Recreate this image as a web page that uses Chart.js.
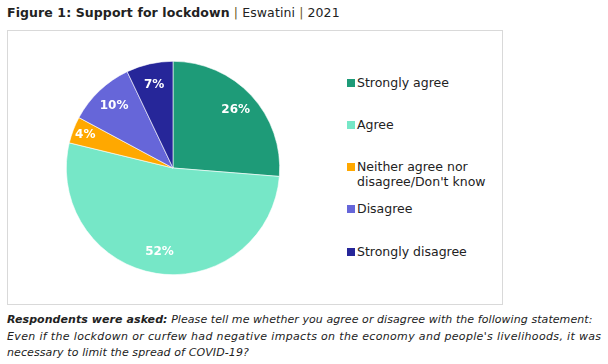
<!DOCTYPE html>
<html>
<head>
<meta charset="utf-8">
<script src="https://cdn.jsdelivr.net/npm/chart.js@4"></script>
<style>
  body { margin: 0; width: 608px; height: 364px; background: #fff; font-family: "DejaVu Sans", sans-serif; color: #222; position: relative; overflow: hidden; }
  #title { position: absolute; left: 7px; top: 5px; font-size: 12.5px; white-space: nowrap; letter-spacing: 0.1px; }
  #title b { font-weight: bold; }
  .pipe { color: #6b5a1e; }
  #box { position: absolute; left: 7px; top: 30px; width: 494px; height: 273px; border: 1px solid #d9d9d9; }
  #wrap { position: absolute; left: 60px; top: 55px; width: 226px; height: 226px; }
  #legend { position: absolute; left: 347px; top: 0; font-size: 12.5px; }
  .item { position: absolute; left: 0; white-space: nowrap; line-height: 15px; }
  .sw { position: absolute; left: 0; top: 4px; width: 8px; height: 8px; }
  .lt { position: absolute; left: 10px; top: 0; }
  #note { position: absolute; left: 7px; top: 312px; font-size: 11px; font-style: italic; line-height: 16.5px; white-space: nowrap; }
</style>
</head>
<body>
<div id="title"><b>Figure 1: Support for lockdown</b> <span class="pipe">|</span> Eswatini <span class="pipe">|</span> 2021</div>
<div id="box"></div>
<div id="wrap"><canvas id="pieChart"></canvas></div>
<div id="legend"></div>
<div id="note"><div style="letter-spacing:0.07px"><b>Respondents were asked:</b> Please tell me whether you agree or disagree with the following statement:</div><div style="letter-spacing:0.34px">Even if the lockdown or curfew had negative impacts on the economy and people's livelihoods, it was</div><div style="letter-spacing:0.1px">necessary to limit the spread of COVID-19?</div></div>
<script>
// données
const categories = ['Strongly agree', 'Agree', 'Neither agree nor disagree/Don\'t know', 'Disagree', 'Strongly disagree'];
const legendLines = [['Strongly agree'], ['Agree'], ['Neither agree nor', 'disagree/Don\'t know'], ['Disagree'], ['Strongly disagree']];
const values = [26, 52, 4, 10, 7];
const colors = ['#1e9b78', '#76e7c7', '#ffa800', '#6666d9', '#262699'];

// légende HTML
const legendTops = [75, 117, 159, 201, 244];
const legend = document.getElementById('legend');
legendLines.forEach(function(lines, i) {
    const it = document.createElement('div');
    it.className = 'item';
    it.style.top = legendTops[i] + 'px';
    it.innerHTML = '<span class="sw" style="background:' + colors[i] + '"></span><span class="lt">' + lines.join('<br>') + '</span>';
    legend.appendChild(it);
});

// étiquettes en pourcentage
const pctLabels = {
    id: 'pctLabels',
    afterDatasetsDraw(chart) {
        const c = chart.ctx;
        const meta = chart.getDatasetMeta(0);
        c.save();
        c.fillStyle = '#fff';
        c.font = 'bold 12px "DejaVu Sans"';
        c.textAlign = 'center';
        c.textBaseline = 'middle';
        meta.data.forEach(function(arc, i) {
            const p = arc.getProps(['x', 'y', 'startAngle', 'endAngle', 'outerRadius']);
            const a = (p.startAngle + p.endAngle) / 2;
            const r = p.outerRadius * (values[i] < 6 ? 0.88 : 0.8);
            c.fillText(values[i] + '%', p.x + Math.cos(a) * r, p.y + Math.sin(a) * r);
        });
        c.restore();
    }
};

new Chart(document.getElementById('pieChart'), {
    type: 'pie',
    data: {
        labels: categories,
        datasets: [{
            data: values,
            backgroundColor: colors,
            borderColor: '#ffffff',
            borderWidth: 0.6
        }]
    },
    options: {
        responsive: true,
        maintainAspectRatio: false,
        animation: false,
        layout: { padding: 6 },
        plugins: {
            legend: { display: false },
            tooltip: { enabled: false }
        }
    },
    plugins: [pctLabels]
});
</script>
</body>
</html>
